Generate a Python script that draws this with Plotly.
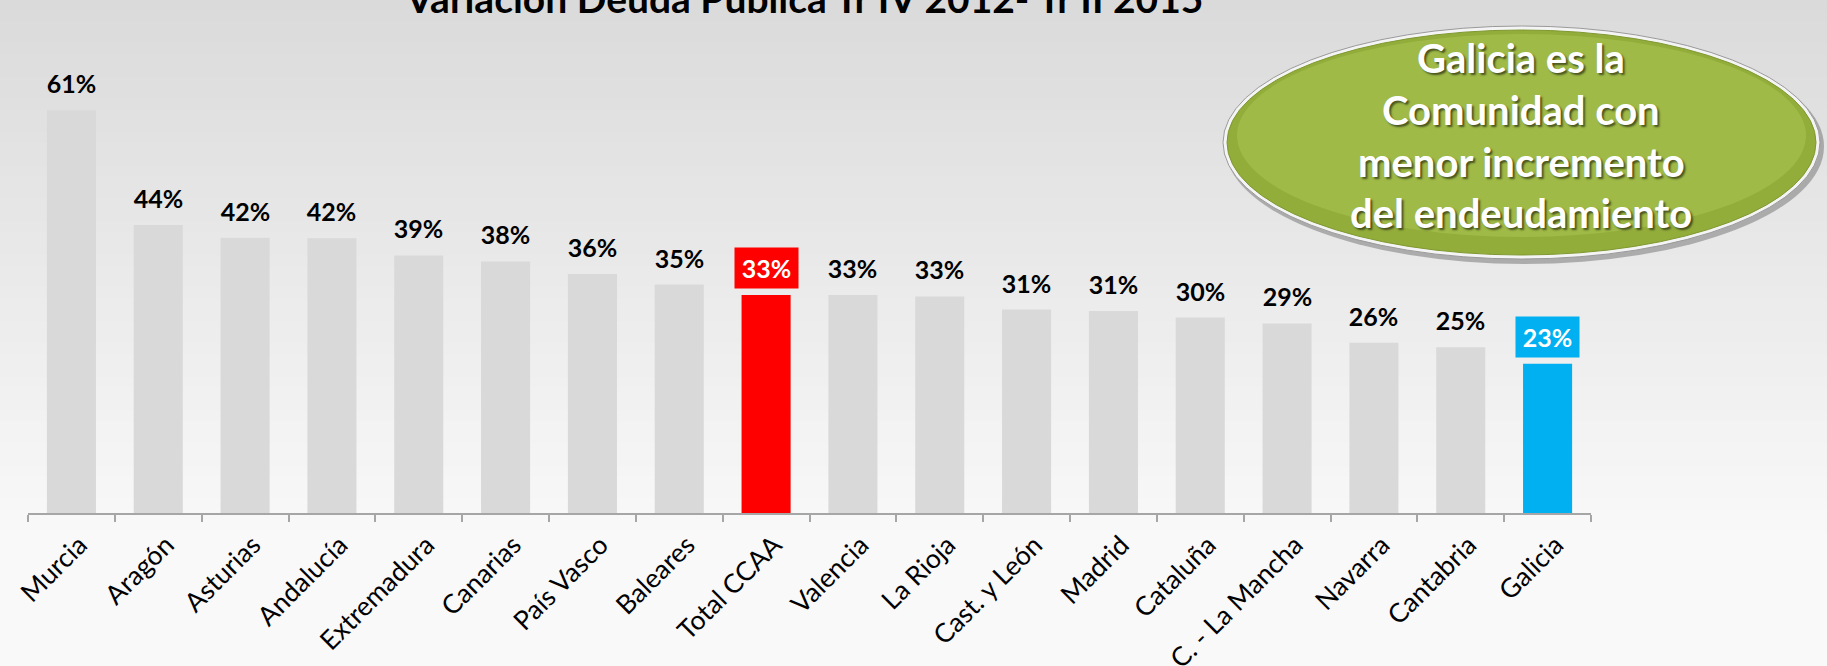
import plotly.graph_objects as go

# ---------------- data ----------------
categories = ["Murcia", "Aragón", "Asturias", "Andalucía", "Extremadura", "Canarias",
              "País Vasco", "Baleares", "Total CCAA", "Valencia", "La Rioja",
              "Cast. y León", "Madrid", "Cataluña", "C. - La Mancha", "Navarra",
              "Cantabria", "Galicia"]
values = [61.0, 43.6, 41.7, 41.6, 39.0, 38.1, 36.2, 34.6, 33.0, 33.0, 32.8,
          30.8, 30.6, 29.6, 28.7, 25.8, 25.1, 22.6]
highlight = {"Total CCAA": "#ff0000", "Galicia": "#00b0f0"}
title_text = "Variación Deuda Pública Tr IV 2012- Tr II 2015"
callout_lines = ["Galicia es la", "Comunidad con", "menor incremento", "del endeudamiento"]

# ---------------- layout geometry ----------------
W, H = 1827, 666
PX0, PX1, PY0, PY1 = 28, 1591, 60, 513
ML, MR = PX0, W - PX1
MT, MB = PY0, H - PY1
PW, PH = W - ML - MR, H - MT - MB


def xp(sx):
    return (sx - PX0) / PW


def yp(sy):
    return (PY1 - sy) / PH


GRAY = "#d9d9d9"
bar_colors = [highlight.get(c, GRAY) for c in categories]

fig = go.Figure()
fig.add_trace(go.Bar(
    x=categories, y=values, marker=dict(color=bar_colors, line=dict(width=0)),
    width=0.565, hoverinfo="skip", showlegend=False,
))

# value labels
for c, v in zip(categories, values):
    col = highlight.get(c)
    fig.add_annotation(
        x=c, y=v, xref="x", yref="y", text=f"{v:.0f}%", showarrow=False,
        yanchor="bottom", yshift=6, width=53, borderpad=5,
        bgcolor=col if col else "rgba(0,0,0,0)",
        font=dict(family="Lato", size=25, weight="bold",
                  color="white" if col else "black"),
    )

shapes = []
# background vertical gradient (paper strips)
N = 60
top_rgb = (218, 218, 218)
bot_rgb = (249, 249, 249)
for i in range(N):
    y0 = i * H / N
    y1 = (i + 1) * H / N + 1
    t = min(1.0, (i + 0.5) / N * H / 540)
    rgb = tuple(round(a + (b - a) * t) for a, b in zip(top_rgb, bot_rgb))
    shapes.append(dict(type="rect", xref="paper", yref="paper", layer="below",
                       x0=xp(-2), x1=xp(W + 2), y0=yp(y1), y1=yp(y0 - 1),
                       fillcolor="rgb(%d,%d,%d)" % rgb, line=dict(width=0)))

# callout ellipse
ex0, ex1, ey0, ey1 = 1223, 1820, 26, 259
shapes.append(dict(type="circle", xref="paper", yref="paper", layer="above",
                   x0=xp(ex0 + 2), x1=xp(ex1 + 4), y0=yp(ey1 + 5), y1=yp(ey0 + 3),
                   fillcolor="rgba(60,60,60,0.35)", line=dict(width=0)))
shapes.append(dict(type="circle", xref="paper", yref="paper", layer="above",
                   x0=xp(ex0), x1=xp(ex1), y0=yp(ey1), y1=yp(ey0),
                   fillcolor="#f4f4f4", line=dict(color="#9a9a9a", width=1)))
shapes.append(dict(type="circle", xref="paper", yref="paper", layer="above",
                   x0=xp(ex0 + 4), x1=xp(ex1 - 4), y0=yp(ey1 - 4), y1=yp(ey0 + 4),
                   fillcolor="#93ad3b", line=dict(color="#7f9830", width=1)))
shapes.append(dict(type="circle", xref="paper", yref="paper", layer="above",
                   x0=xp(ex0 + 14), x1=xp(ex1 - 14), y0=yp(ey1 - 22), y1=yp(ey0 + 8),
                   fillcolor="rgba(170,196,80,0.55)", line=dict(width=0)))

# callout text lines
line_y = [58, 110, 162, 213]
for txt, ly in zip(callout_lines, line_y):
    fig.add_annotation(
        x=xp(1521), y=yp(ly), xref="paper", yref="paper", text=txt, showarrow=False,
        xanchor="center", yanchor="middle",
        font=dict(family="Lato", size=40, weight="bold", color="white",
                  shadow="2px 2px 2px rgba(0,0,0,0.55)"),
    )

# title (cut by the top edge)
fig.add_annotation(
    x=xp(804), y=yp(-2), xref="paper", yref="paper", text=title_text, showarrow=False,
    xanchor="center", yanchor="middle",
    font=dict(family="Lato", size=39, weight="bold", color="black"),
)

fig.update_layout(
    width=W, height=H,
    margin=dict(l=ML, r=MR, t=MT, b=MB, autoexpand=False),
    paper_bgcolor="#f9f9f9", plot_bgcolor="rgba(0,0,0,0)",
    shapes=shapes,
    xaxis=dict(showline=True, linecolor="#a6a6a6", linewidth=2,
               ticks="outside", tickson="boundaries", ticklen=7,
               tickcolor="#a6a6a6", tickwidth=2, tickangle=-45,
               ticklabelstandoff=4, ticklabelshift=8,
               showgrid=False, zeroline=False,
               tickfont=dict(family="Lato", size=26.5, color="black")),
    yaxis=dict(visible=False, range=[0, 68.6], showgrid=False, zeroline=False),
)

fig.write_html(
    "out.html",
    config={"displayModeBar": False},
    post_script="document.body.style.margin='0';document.body.style.background='#f9f9f9';",
)
